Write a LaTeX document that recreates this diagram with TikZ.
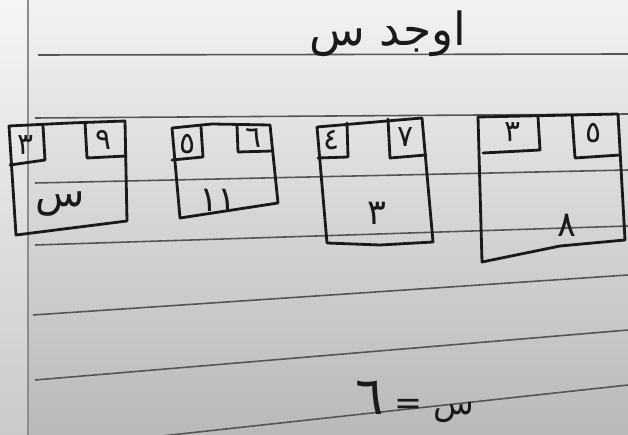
\documentclass[tikz,border=0pt]{standalone}
\usepackage{fontspec}
\newfontfamily\arabicfont[Script=Arabic]{DejaVu Sans}
\TeXXeTstate=1
\definecolor{ink}{HTML}{1A1A1A}
\definecolor{ruleline}{HTML}{555555}
\definecolor{margin}{HTML}{8C8C8C}

\begin{document}
\begin{tikzpicture}[x=0.02cm,y=-0.02cm,
        box/.style={ink,line width=1.6pt,line join=round,line cap=round},
        digit/.style={font=\arabicfont\fontsize{17}{17}\selectfont,text=ink,inner sep=0pt},
        bigdigit/.style={font=\arabicfont\fontsize{20}{20}\selectfont,text=ink,inner sep=0pt},
        heading/.style={font=\arabicfont\fontsize{26}{26}\selectfont,text=ink,inner sep=0pt}]
        \useasboundingbox (0,0) rectangle (628,435);
        \clip (0,0) rectangle (628,435);
        % Paper
        \shade[top color=gray!10,bottom color=gray!55] (0,0) rectangle (628,435);
        \fill[white,opacity=0.25] (0,0) rectangle (28,435);
        \draw[margin,line width=1pt] (28,0) -- (28,435);
        % Ruled lines (left x, left y, right y)
        \foreach \xa/\ya/\yb in {38/55/54, 35/118/114, 35/183/170, 35/245/226, 33/315/275, 35/380/330, 125/440/385} {
            \draw[ruleline,line width=0.9pt] (\xa,\ya) -- (628,\yb);
        }
        % Heading
        \node[heading] (title) at (388,34) {\beginR اوجد س\endR};
        % Box 1
        \draw[box] (9,126) -- (70,123) -- (125,121) -- (127,221) -- (16,235) -- cycle;
        \draw[box] (10,165) -- (45,160) -- (43,126);
        \draw[box] (85,122) -- (87,158) -- (126,156);
        \node[digit] (a1) at (26,145) {٣};
        \node[digit] (b1) at (104,140) {٩};
        \node[bigdigit,font=\arabicfont\fontsize{23}{23}\selectfont] (c1) at (60,204) {س};
        % Box 2
        \draw[box] (172,128) -- (212,124) -- (270,125) -- (278,203) -- (180,218) -- cycle;
        \draw[box] (172,160) -- (203,157) -- (201,127);
        \draw[box] (237,125) -- (238,152) -- (272,151);
        \node[digit] (a2) at (188,144) {٥};
        \node[digit] (b2) at (254,138) {٦};
        \node[bigdigit] (c2) at (218,200) {١١};
        % Box 3
        \draw[box] (317,127) -- (422,118) -- (433,242) -- (380,245) -- (327,243) -- cycle;
        \draw[box] (318,158) -- (348,157) -- (347,123);
        \draw[box] (388,119) -- (390,158) -- (426,155);
        \node[digit] (a3) at (332,140) {٤};
        \node[digit] (b3) at (406,137) {٧};
        \node[bigdigit] (c3) at (377,213) {٣};
        % Box 4
        \draw[box] (478,117) -- (618,114) -- (625,240) -- (560,246) -- (482,262) -- cycle;
        \draw[box] (483,153) -- (540,150) -- (538,117);
        \draw[box] (572,115) -- (575,158) -- (620,155);
        \node[digit] (a4) at (513,132) {٣};
        \node[digit] (b4) at (594,133) {٥};
        \node[bigdigit] (c4) at (567,225) {٨};
        % Answer
        \node[heading,font=\arabicfont\fontsize{19}{19}\selectfont] (answer) at (415,402)
            {\beginR س = {\fontsize{30}{30}\selectfont ٦}\endR};
    \end{tikzpicture}
\end{document}
